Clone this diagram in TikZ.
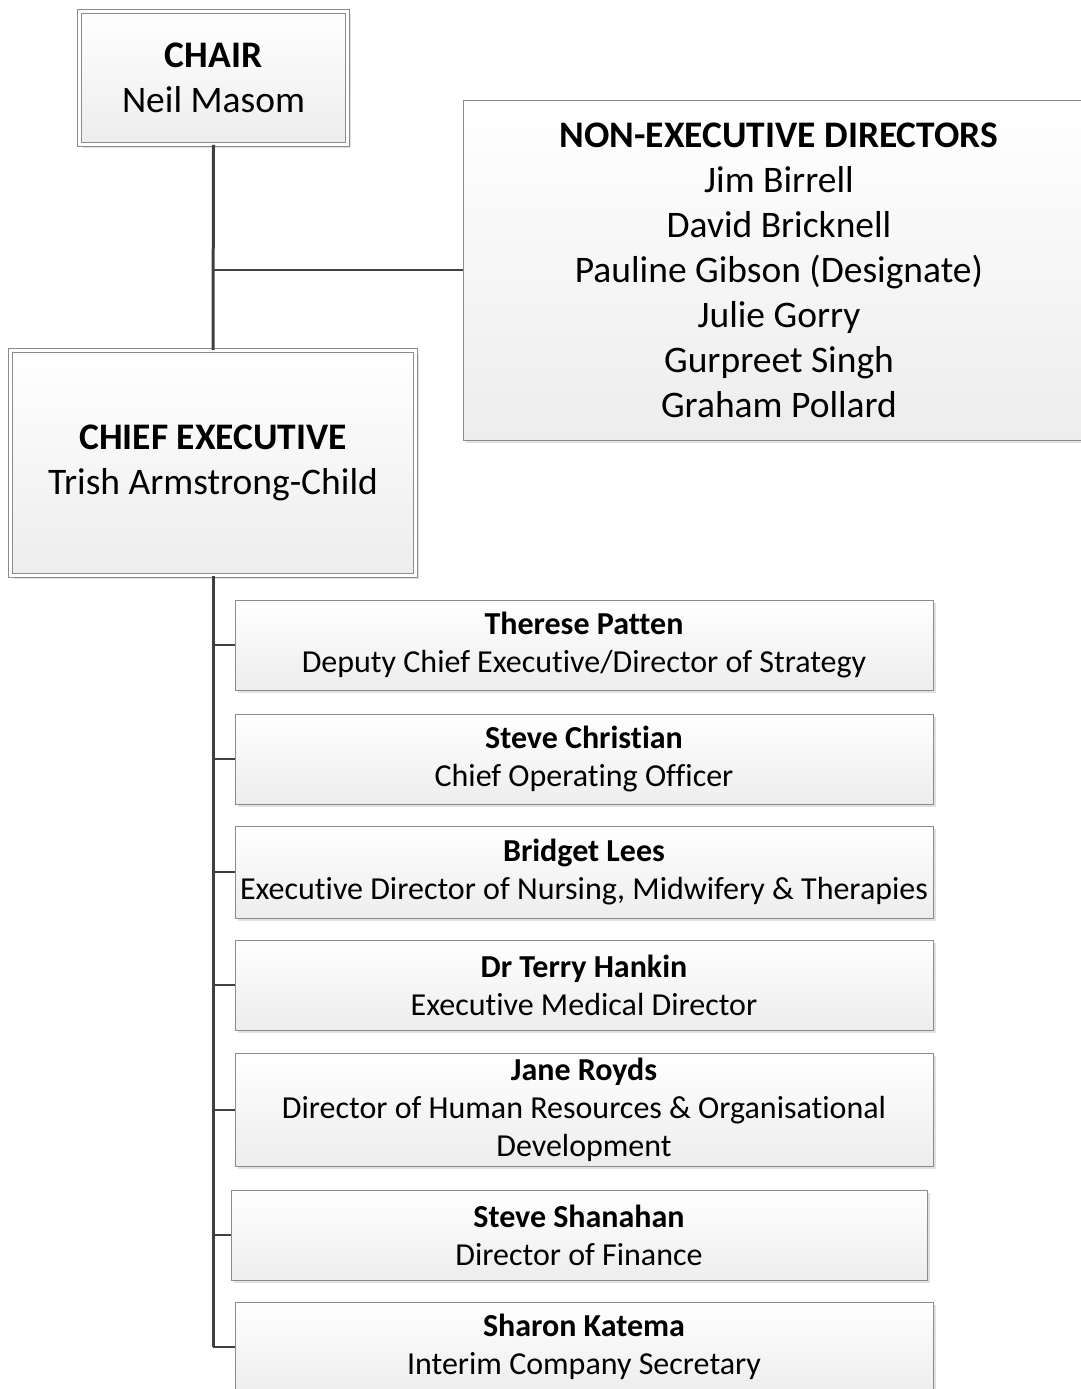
\documentclass[tikz,border=0pt]{standalone}
\usepackage{fontspec}
\setmainfont[Ligatures=CommonOff]{Carlito}
\usetikzlibrary{shadows}

\definecolor{boxline}{HTML}{8C8C8C}
\definecolor{boxfill}{HTML}{EDEDED}
\definecolor{linkgray}{HTML}{404040}

\tikzset{
  post/.style={draw=boxline, line width=1pt, top color=white, bottom color=boxfill,
    drop shadow={shadow xshift=3pt, shadow yshift=-3pt, fill=black, opacity=0.12},
    align=center, inner sep=0pt},
  toppost/.style={post, double=white, double distance=3pt, line width=0.9pt},
  bigtext/.style={font=\fontsize{37.5}{45}\selectfont},
  smalltext/.style={font=\fontsize{32}{38}\selectfont},
  link/.style={draw=linkgray, line width=2pt},
  trunk/.style={draw=linkgray, line width=3pt}
}

\begin{document}
\begin{tikzpicture}[x=1pt, y=-1pt]
    \useasboundingbox (0,0) rectangle (1081,1389);
    % Top of the chart
    \node[toppost, bigtext, minimum width=268pt, minimum height=133pt] (chair) at (213.5,78)
      {\textbf{CHAIR}\\Neil Masom};
    \node[post, bigtext, minimum width=632pt, minimum height=340pt] (ned) at (779,270)
      {\textbf{NON-EXECUTIVE DIRECTORS}\\Jim Birrell\\David Bricknell\\Pauline Gibson (Designate)\\Julie Gorry\\Gurpreet Singh\\Graham Pollard};
    \node[toppost, bigtext, minimum width=405pt, minimum height=225pt] (ceo) at (213,463)
      {\textbf{CHIEF EXECUTIVE}\\Trish Armstrong-Child};
    % Directors reporting to the chief executive
    \node[post, smalltext, minimum width=698pt, minimum height=90pt] (patten) at (584,645)
      {\textbf{Therese Patten}\\Deputy Chief Executive/Director of Strategy};
    \node[post, smalltext, minimum width=698pt, minimum height=90pt] (christian) at (584,759)
      {\textbf{Steve Christian}\\Chief Operating Officer};
    \node[post, smalltext, minimum width=698pt, minimum height=92pt] (lees) at (584,872)
      {\textbf{Bridget Lees}\\Executive Director of Nursing, Midwifery \& Therapies};
    \node[post, smalltext, minimum width=698pt, minimum height=90pt] (hankin) at (584,985)
      {\textbf{Dr Terry Hankin}\\Executive Medical Director};
    \node[post, smalltext, minimum width=698pt, minimum height=113pt] (royds) at (584,1109.5)
      {\textbf{Jane Royds}\\Director of Human Resources \& Organisational\\Development};
    \node[post, smalltext, minimum width=696pt, minimum height=90pt] (shanahan) at (579,1235)
      {\textbf{Steve Shanahan}\\Director of Finance};
    \node[post, smalltext, minimum width=698pt, minimum height=90pt] (katema) at (584,1347)
      {\textbf{Sharon Katema}\\Interim Company Secretary};
    % Connectors
    \draw[trunk] (chair.south) -- (ceo.north);
    \draw[link] (chair.south |- ned.west) -- (ned.west);
    \draw[trunk] (ceo.south) -- (ceo.south |- katema.west);
    \draw[link] (ceo.south |- patten.west) -- (patten.west);
    \draw[link] (ceo.south |- christian.west) -- (christian.west);
    \draw[link] (ceo.south |- lees.west) -- (lees.west);
    \draw[link] (ceo.south |- hankin.west) -- (hankin.west);
    \draw[link] (ceo.south |- royds.west) -- (royds.west);
    \draw[link] (ceo.south |- shanahan.west) -- (shanahan.west);
    \draw[link] (ceo.south |- katema.west) -- (katema.west);
\end{tikzpicture}
\end{document}
